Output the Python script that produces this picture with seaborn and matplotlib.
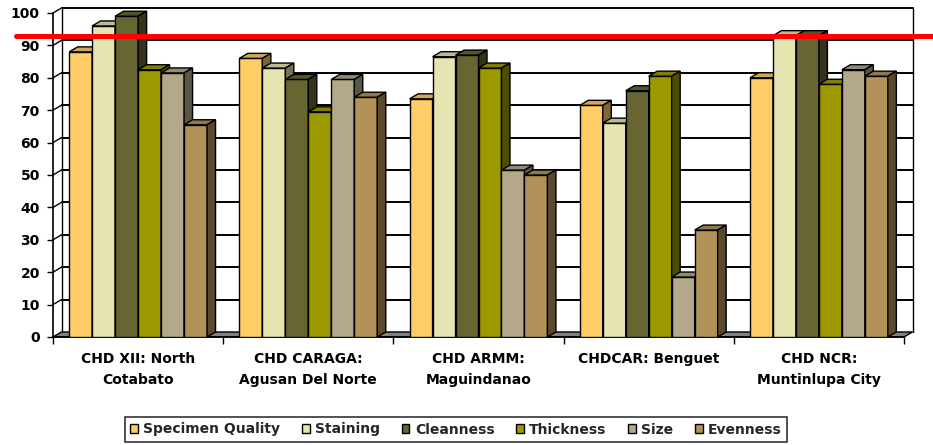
import matplotlib
matplotlib.use("Agg")
import matplotlib.pyplot as plt
import matplotlib.transforms as mtransforms
from matplotlib.patches import Polygon, Rectangle
from matplotlib.lines import Line2D
from matplotlib.colors import to_rgb
import numpy as np
import pandas as pd
import seaborn as sns

# Regions (x categories) and evaluated parameters (hue)
regions = [
    "CHD XII: North\nCotabato",
    "CHD CARAGA:\nAgusan Del Norte",
    "CHD ARMM:\nMaguindanao",
    "CHDCAR: Benguet",
    "CHD NCR:\nMuntinlupa City",
]
parameters = ["Specimen Quality", "Staining", "Cleanness", "Thickness", "Size", "Evenness"]

# Scores (%) per region for each parameter
specimen_quality = [88, 86, 73.5, 71.5, 80]
staining = [96, 83, 86.5, 66, 93]
cleanness = [99, 79.5, 87, 76, 93]
thickness = [82.5, 69.5, 83, 80.5, 78]
size = [81.5, 79.5, 51.5, 18.5, 82.5]
evenness = [65.5, 74, 50, 33, 80.5]

y_ticks = [0, 10, 20, 30, 40, 50, 60, 70, 80, 90, 100]
target_level = 93

colors = ["#FFCC66", "#E6E4B0", "#676633", "#9C9900", "#B3A98A", "#B39259"]

series = [specimen_quality, staining, cleanness, thickness, size, evenness]
rows = []
for name, vals in zip(parameters, series):
    for reg, v in zip(regions, vals):
        rows.append({"Region": reg, "Parameter": name, "Score": v})
df = pd.DataFrame(rows)

sns.set_theme(style="white")
plt.rcParams["font.family"] = ["DejaVu Sans"]
plt.rcParams["font.weight"] = "bold"

W, H = 933, 445
fig = plt.figure(figsize=(W / 100, H / 100), dpi=100)
fig.patch.set_facecolor("white")
ax = fig.add_axes([53 / W, 1 - 337 / H, 851 / W, 324 / H])

sns.barplot(
    data=df, x="Region", y="Score", hue="Parameter",
    order=regions, hue_order=parameters, palette=colors,
    width=0.81, saturation=1, edgecolor="black", linewidth=1.0,
    errorbar=None, ax=ax,
)

ax.set_xlim(-0.5, 4.5)
ax.set_ylim(0, 100)
ax.set_xlabel("")
ax.set_ylabel("")
ax.set_facecolor("white")

# depth offset of the pseudo-3D walls and bars (data units)
DX = 0.05
DY = 1.55


def shade(c, f):
    r, g, b = to_rgb(c)
    return (r * f, g * f, b * f)


# floor slab
floor = Polygon([(-0.5, 0), (4.5, 0), (4.5 + DX, DY), (-0.5 + DX, DY)],
                closed=True, facecolor="#808080", edgecolor="black",
                linewidth=1.0, zorder=2, clip_on=False)
ax.add_patch(floor)

# back wall gridlines and left-wall diagonals
for v in y_ticks:
    if 0 < v < 100:
        ax.plot([-0.5 + DX, 4.5 + DX], [v + DY, v + DY], color="black",
                lw=1.4, zorder=1, clip_on=False)
    if v > 0:
        ax.plot([-0.5, -0.5 + DX], [v, v + DY], color="black", lw=1.0,
                zorder=1, clip_on=False)

# back wall border
ax.plot([-0.5 + DX, 4.5 + DX], [100 + DY, 100 + DY], color="black", lw=1.4, zorder=1, clip_on=False)
ax.plot([-0.5 + DX, -0.5 + DX], [DY, 100 + DY], color="black", lw=1.0, zorder=1, clip_on=False)
ax.plot([4.5 + DX, 4.5 + DX], [DY, 100 + DY], color="black", lw=1.0, zorder=1, clip_on=False)

# tops and sides of the bars
bars = [p for p in ax.patches if isinstance(p, Rectangle) and p.get_height() > 0 and p is not floor]
bars.sort(key=lambda p: p.get_x())
for k, p in enumerate(bars):
    z = 3 + k * 0.01
    x, w, h = p.get_x(), p.get_width(), p.get_height()
    fc = p.get_facecolor()
    p.set_zorder(z)
    top = Polygon([(x, h), (x + w, h), (x + w + DX, h + DY), (x + DX, h + DY)],
                  closed=True, facecolor=shade(fc, 0.82), edgecolor="black",
                  linewidth=1.0, zorder=z, clip_on=False)
    side = Polygon([(x + w, 0), (x + w, h), (x + w + DX, h + DY), (x + w + DX, DY)],
                   closed=True, facecolor=shade(fc, 0.5), edgecolor="black",
                   linewidth=1.0, zorder=z, clip_on=False)
    ax.add_patch(top)
    ax.add_patch(side)

for s in ["top", "right"]:
    ax.spines[s].set_visible(False)
for s in ["left", "bottom"]:
    ax.spines[s].set_visible(True)
    ax.spines[s].set_color("black")
    ax.spines[s].set_linewidth(1.2)
    ax.spines[s].set_zorder(2.5)

ax.set_yticks(y_ticks)
ax.set_yticklabels([str(v) for v in y_ticks])
ax.tick_params(axis="y", left=True, length=4.5, width=1, color="black",
               pad=5, labelsize=10, direction="out", labelcolor="black")

ax.set_xticks(range(len(regions)))
ax.set_xticklabels(regions)
ax.tick_params(axis="x", which="major", length=0, pad=11, labelsize=10, labelcolor="black")
ax.set_xticks(np.arange(-0.5, len(regions), 1), minor=True)
ax.tick_params(axis="x", which="minor", bottom=True, length=5, width=1,
               color="black", direction="out")
for lbl in ax.get_xticklabels():
    lbl.set_linespacing(1.65)
    lbl.set_fontweight("bold")
for lbl in ax.get_yticklabels():
    lbl.set_fontweight("bold")

# legend
handles, labels = ax.get_legend_handles_labels()
if ax.get_legend() is not None:
    ax.get_legend().remove()
leg = fig.legend(handles, labels, loc="center",
                 bbox_to_anchor=(456 / W, 1 - 429.5 / H), ncol=6,
                 frameon=True, fancybox=False, edgecolor="black",
                 handlelength=0.55, handleheight=0.55, handletextpad=0.4,
                 columnspacing=1.55, borderpad=0.4,
                 prop={"size": 10, "weight": "bold"})
leg.get_frame().set_linewidth(1.2)

# target level line across the figure
blend = mtransforms.blended_transform_factory(fig.transFigure, ax.transData)
fig.add_artist(Line2D([16 / W, 1.0], [target_level, target_level],
                      transform=blend, color="#FF0000", lw=3.6, zorder=20))

fig.savefig("out.png", dpi=100, facecolor="white")
